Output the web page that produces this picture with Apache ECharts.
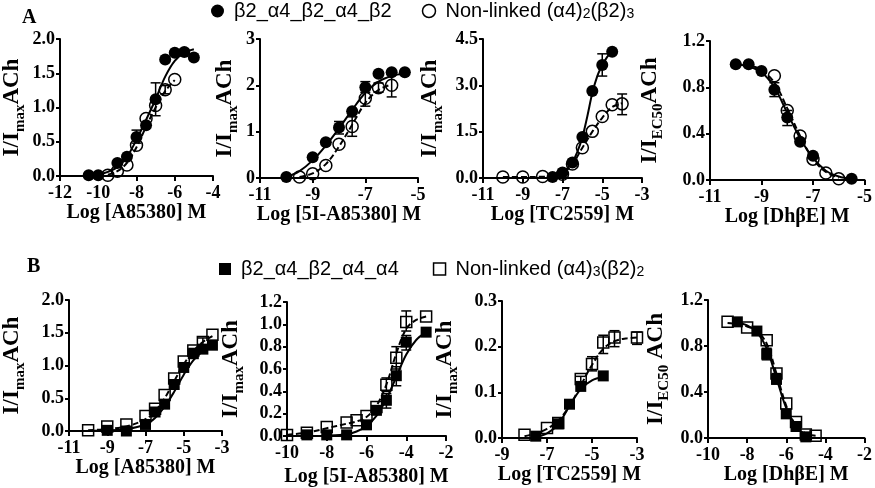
<!DOCTYPE html>
<html><head><meta charset="utf-8">
<script src="https://cdn.jsdelivr.net/npm/echarts@6/dist/echarts.min.js"></script>
<style>html,body{margin:0;padding:0;background:#fff}#c{width:875px;height:488px}</style>
</head><body><div id="c"></div>
<script>
// ---------- legend / series names ----------
const nameA_filled = 'β2_α4_β2_α4_β2';
const nameA_open = 'Non-linked (α4)2(β2)3';
const nameB_filled = 'β2_α4_β2_α4_α4';
const nameB_open = 'Non-linked (α4)3(β2)2';

// ---------- tick labels ----------
const A1_xTicks = [-12, -10, -8, -6, -4];   const A1_yTicks = [0, 0.5, 1.0, 1.5, 2.0];
const A2_xTicks = [-11, -9, -7, -5];        const A2_yTicks = [0, 1, 2, 3];
const A3_xTicks = [-11, -9, -7, -5, -3];    const A3_yTicks = [0, 1.5, 3.0, 4.5];
const A4_xTicks = [-11, -9, -7, -5];        const A4_yTicks = [0, 0.4, 0.8, 1.2];
const B1_xTicks = [-11, -9, -7, -5, -3];    const B1_yTicks = [0, 0.5, 1.0, 1.5, 2.0];
const B2_xTicks = [-10, -8, -6, -4, -2];    const B2_yTicks = [0, 0.2, 0.4, 0.6, 0.8, 1.0, 1.2];
const B3_xTicks = [-9, -7, -5, -3];         const B3_yTicks = [0, 0.1, 0.2, 0.3];
const B4_xTicks = [-10, -8, -6, -4, -2];    const B4_yTicks = [0, 0.4, 0.8, 1.2];

// ---------- axis titles ----------
const xTitles = ['Log [A85380] M', 'Log [5I-A85380] M', 'Log [TC2559] M', 'Log [DhβE] M',
                 'Log [A85380] M', 'Log [5I-A85380] M', 'Log [TC2559] M', 'Log [DhβE] M'];
const yTitles = ['I/I{sub|max}ACh', 'I/I{sub|max}ACh', 'I/I{sub|max}ACh', 'I/I{sub|EC50}ACh',
                 'I/I{sub|max}ACh', 'I/I{sub|max}ACh', 'I/I{sub|max}ACh', 'I/I{sub|EC50} ACh'];

// ---------- A1 : A85380 ----------
const A1_filled = [[-10.5,0.01],[-10,0.01],[-9,0.19],[-8.5,0.28],[-8,0.57],[-7.5,0.74],[-7,1.12],[-6.5,1.70],[-6,1.80],[-5.5,1.81],[-5,1.73]];
const A1_open = [[-9.5,0.01],[-9,0.07],[-8.5,0.16],[-8,0.45],[-7.5,0.84],[-7,1.03],[-6.5,1.26],[-6,1.41]];
const A1_fitFilled = [[-10.5,0.01],[-10,0.02],[-9.5,0.06],[-9,0.13],[-8.5,0.28],[-8,0.53],[-7.5,0.82],[-7,1.12],[-6.5,1.45],[-6,1.68],[-5.5,1.80],[-5,1.85]];
const A1_fitOpen = [[-9.5,0.02],[-9,0.07],[-8.5,0.19],[-8,0.42],[-7.5,0.72],[-7,1.0],[-6.5,1.24],[-6,1.40]];
const A1_err = [[-8,0.48,0.67],[-7,0.88,1.36],[-6.5,1.2,1.32],[-5.5,1.78,1.85]];

// ---------- A2 : 5I-A85380 ----------
const A2_filled = [[-10,0.02],[-9,0.45],[-8.5,0.77],[-8,1.09],[-7.5,1.44],[-7,1.96],[-6.5,2.25],[-6,2.28],[-5.5,2.28]];
const A2_open = [[-9.5,0.02],[-9,0.09],[-8.5,0.27],[-8,0.73],[-7.5,1.11],[-7,1.72],[-6.5,1.95],[-6,2.0]];
const A2_fitFilled = [[-10,0.02],[-9.5,0.15],[-9,0.38],[-8.5,0.70],[-8,1.07],[-7.5,1.47],[-7,1.84],[-6.5,2.08],[-6,2.20],[-5.5,2.26]];
const A2_fitOpen = [[-9.5,0.02],[-9,0.10],[-8.5,0.30],[-8,0.68],[-7.5,1.15],[-7,1.62],[-6.5,1.90],[-6,2.02]];
const A2_err = [[-8,0.95,1.22],[-7.5,0.9,1.32],[-7,1.85,2.08],[-7,1.55,1.9],[-6.5,1.85,2.05],[-6,1.75,2.25]];

// ---------- A3 : TC2559 ----------
const A3_filled = [[-7.5,0.03],[-7,0.18],[-6.5,0.5],[-6,1.33],[-5.5,2.82],[-5,3.66],[-4.5,4.09]];
const A3_open = [[-10,0.03],[-9,0.03],[-8,0.05],[-7,0.12],[-6.5,0.45],[-6,0.98],[-5.5,1.51],[-5,1.99],[-4.5,2.37],[-4,2.40]];
const A3_fitFilled = [[-7.5,0.02],[-7,0.15],[-6.5,0.52],[-6.25,0.85],[-6,1.32],[-5.75,2.0],[-5.5,2.75],[-5.25,3.3],[-5,3.65],[-4.75,3.92],[-4.5,4.1]];
const A3_fitOpen = [[-10,0.03],[-9,0.03],[-8,0.04],[-7.5,0.05],[-7,0.14],[-6.5,0.45],[-6,0.98],[-5.5,1.5],[-5,1.95],[-4.5,2.3],[-4,2.42]];
const A3_err = [[-5,3.3,4.02],[-4,2.05,2.72]];

// ---------- A4 : DhβE ----------
const A4_filled = [[-10,1.0],[-9.5,1.0],[-9,0.94],[-8.5,0.78],[-8,0.54],[-7.5,0.33],[-7,0.21],[-5.5,0.01]];
const A4_open = [[-8.5,0.9],[-8,0.6],[-7.5,0.38],[-7,0.18],[-6.5,0.06],[-6,0.01]];
const A4_fitFilled = [[-10,1.0],[-9.5,0.98],[-9,0.93],[-8.5,0.80],[-8,0.58],[-7.5,0.36],[-7,0.19],[-6.5,0.08],[-6,0.03],[-5.5,0.01]];
const A4_fitOpen = [[-10,1.0],[-9.5,0.99],[-9,0.95],[-8.5,0.84],[-8,0.62],[-7.5,0.38],[-7,0.18],[-6.5,0.07],[-6,0.02]];
const A4_err = [[-8.5,0.72,0.84],[-8,0.47,0.6]];

// ---------- B1 : A85380 ----------
const B1_filled = [[-9,0.01],[-8,0.0],[-7,0.1],[-6.5,0.29],[-6,0.41],[-5.5,0.71],[-5,0.97],[-4.5,1.18],[-4,1.25],[-3.5,1.31]];
const B1_open = [[-10,0.01],[-9,0.07],[-8,0.1],[-7,0.23],[-6.5,0.34],[-6,0.55],[-5.5,0.80],[-5,1.06],[-4.5,1.23],[-4,1.36],[-3.5,1.47]];
const B1_fitFilled = [[-10,0.0],[-9,0.01],[-8,0.03],[-7,0.10],[-6.5,0.20],[-6,0.37],[-5.5,0.60],[-5,0.86],[-4.5,1.08],[-4,1.22],[-3.5,1.30]];
const B1_fitOpen = [[-10,0.01],[-9,0.03],[-8,0.07],[-7,0.18],[-6.5,0.30],[-6,0.50],[-5.5,0.76],[-5,1.02],[-4.5,1.22],[-4,1.36],[-3.5,1.45]];
const B1_err = [[-4.5,1.12,1.26],[-4,1.3,1.42]];

// ---------- B2 : 5I-A85380 ----------
const B2_filled = [[-9,0.01],[-8,0.01],[-7,0.01],[-6,0.10],[-5.5,0.23],[-5,0.32],[-4.5,0.54],[-4,0.84],[-3,0.93]];
const B2_open = [[-10,0.01],[-9,0.03],[-8,0.08],[-7,0.12],[-6.5,0.14],[-6,0.18],[-5.5,0.26],[-5,0.46],[-4.5,0.70],[-4,1.02],[-3,1.07]];
const B2_fitFilled = [[-9,0.0],[-8,0.003],[-7,0.015],[-6.5,0.04],[-6,0.09],[-5.5,0.18],[-5,0.33],[-4.5,0.53],[-4,0.73],[-3.5,0.86],[-3,0.93]];
const B2_fitOpen = [[-10,0.01],[-9,0.03],[-8,0.07],[-7,0.11],[-6.5,0.13],[-6,0.17],[-5.5,0.27],[-5,0.46],[-4.5,0.74],[-4,0.96],[-3.5,1.04],[-3,1.07]];
const B2_err = [[-5,0.25,0.38],[-5,0.4,0.52],[-4.5,0.45,0.62],[-4.5,0.6,0.8],[-4,0.77,0.9],[-4,0.94,1.12]];

// ---------- B3 : TC2559 ----------
const B3_filled = [[-7.5,0.004],[-6.5,0.031],[-6,0.074],[-5.5,0.113],[-4.5,0.136]];
const B3_open = [[-8,0.007],[-7,0.022],[-6.5,0.033],[-5.5,0.129],[-5,0.162],[-4.5,0.209],[-4,0.22],[-3,0.22]];
const B3_fitFilled = [[-7.5,0.002],[-7,0.01],[-6.5,0.03],[-6,0.07],[-5.5,0.107],[-5,0.126],[-4.5,0.134]];
const B3_fitOpen = [[-8,0.004],[-7.5,0.01],[-7,0.02],[-6.5,0.038],[-6,0.07],[-5.5,0.115],[-5,0.16],[-4.5,0.195],[-4,0.212],[-3.5,0.218],[-3,0.22]];
const B3_err = [[-5.5,0.115,0.135],[-5,0.147,0.178],[-4.5,0.185,0.225],[-4,0.2,0.235],[-3,0.205,0.232]];

// ---------- B4 : DhβE ----------
const B4_filled = [[-8.5,1.01],[-7.5,0.93],[-7,0.73],[-6.5,0.51],[-6,0.21],[-5.5,0.10],[-5,0.01]];
const B4_open = [[-9,1.01],[-8,0.96],[-7,0.85],[-6.5,0.56],[-6,0.30],[-5.5,0.14],[-5,0.03],[-4.5,0.02]];
const B4_fitFilled = [[-8.5,1.0],[-8,0.98],[-7.5,0.92],[-7,0.78],[-6.5,0.52],[-6,0.26],[-5.5,0.10],[-5,0.03]];
const B4_fitOpen = [[-9,1.0],[-8.5,0.99],[-8,0.97],[-7.5,0.93],[-7,0.82],[-6.5,0.56],[-6,0.28],[-5.5,0.11],[-5,0.04],[-4.5,0.02]];
const B4_err = [[-7,0.68,0.78],[-6.5,0.47,0.56]];

// ---------- layout (pixel geometry of each plot area) ----------
const layout = [
  {l:53,  r:213, t:39,  b:176, yGap:36, xGap:23},
  {l:260, r:418, t:39,  b:178, yGap:23, xGap:21},
  {l:483, r:642, t:39,  b:178, yGap:41, xGap:21},
  {l:710, r:867, t:41,  b:180, yGap:48, xGap:27},
  {l:61,  r:222, t:300, b:431, yGap:45, xGap:26},
  {l:287, r:446, t:302, b:438, yGap:44, xGap:31},
  {l:502, r:637, t:301, b:438, yGap:45, xGap:23},
  {l:708, r:865, t:300, b:438, yGap:40, xGap:21}
];

const panels = [
  {xt:A1_xTicks, yt:A1_yTicks, dec:1, f:A1_filled, o:A1_open, ff:A1_fitFilled, fo:A1_fitOpen, e:A1_err, g:'A'},
  {xt:A2_xTicks, yt:A2_yTicks, dec:0, f:A2_filled, o:A2_open, ff:A2_fitFilled, fo:A2_fitOpen, e:A2_err, g:'A'},
  {xt:A3_xTicks, yt:A3_yTicks, dec:1, f:A3_filled, o:A3_open, ff:A3_fitFilled, fo:A3_fitOpen, e:A3_err, g:'A'},
  {xt:A4_xTicks, yt:A4_yTicks, dec:1, f:A4_filled, o:A4_open, ff:A4_fitFilled, fo:A4_fitOpen, e:A4_err, g:'A'},
  {xt:B1_xTicks, yt:B1_yTicks, dec:1, f:B1_filled, o:B1_open, ff:B1_fitFilled, fo:B1_fitOpen, e:B1_err, g:'B'},
  {xt:B2_xTicks, yt:B2_yTicks, dec:1, f:B2_filled, o:B2_open, ff:B2_fitFilled, fo:B2_fitOpen, e:B2_err, g:'B'},
  {xt:B3_xTicks, yt:B3_yTicks, dec:1, f:B3_filled, o:B3_open, ff:B3_fitFilled, fo:B3_fitOpen, e:B3_err, g:'B'},
  {xt:B4_xTicks, yt:B4_yTicks, dec:1, f:B4_filled, o:B4_open, ff:B4_fitFilled, fo:B4_fitOpen, e:B4_err, g:'B'}
];

const serif = 'Liberation Serif';
const sans = 'Liberation Sans';
const axisLineStyle = {color:'#000', width:2};

const grids = [], xAxes = [], yAxes = [], series = [];

panels.forEach((p, i) => {
  const L = layout[i];
  grids.push({left:L.l, top:L.t, width:L.r - L.l, height:L.b - L.t, containLabel:false});
  xAxes.push({
    type:'value', gridIndex:i,
    min:p.xt[0], max:p.xt[p.xt.length-1], interval:p.xt[1]-p.xt[0],
    splitLine:{show:false},
    axisLine:{show:true, onZero:false, lineStyle:axisLineStyle},
    axisTick:{show:true, inside:false, length:5, lineStyle:axisLineStyle},
    axisLabel:{color:'#000', fontFamily:serif, fontWeight:'bold', fontSize:18, margin:8},
    name:xTitles[i], nameLocation:'middle', nameGap:L.xGap,
    nameTextStyle:{color:'#000', fontFamily:serif, fontWeight:'bold', fontSize:20}
  });
  yAxes.push({
    type:'value', gridIndex:i,
    min:p.yt[0], max:p.yt[p.yt.length-1], interval:p.yt[1]-p.yt[0],
    splitLine:{show:false},
    axisLine:{show:true, onZero:false, lineStyle:axisLineStyle},
    axisTick:{show:true, inside:false, length:4, lineStyle:axisLineStyle},
    axisLabel:{color:'#000', fontFamily:serif, fontWeight:'bold', fontSize:18, margin:5,
      formatter: v => p.dec ? Number(v).toFixed(p.dec) : String(Math.round(v))},
    name:yTitles[i], nameLocation:'middle', nameGap:L.yGap,
    nameTextStyle:{color:'#000', fontFamily:serif, fontWeight:'bold', fontSize:23,
      rich:{sub:{fontFamily:serif, fontWeight:'bold', fontSize:15, color:'#000', verticalAlign:'bottom', padding:[0,0,-4,0]}}}
  });
  const isA = p.g === 'A';
  const sym = isA ? 'circle' : 'rect';
  const size = isA ? 12 : 11;
  // fitted curves
  series.push({type:'line', name:'fit-f-'+i, xAxisIndex:i, yAxisIndex:i, data:p.ff, smooth:0.35,
    symbol:'none', silent:true, z:4, lineStyle:{color:'#000', width:2}});
  series.push({type:'line', name:'fit-o-'+i, xAxisIndex:i, yAxisIndex:i, data:p.fo, smooth:0.35,
    symbol:'none', silent:true, z:4, lineStyle:{color:'#000', width:2, type:[6,3]}});
  // error bars
  series.push({type:'custom', name:'err-'+i, xAxisIndex:i, yAxisIndex:i, data:p.e, z:3, silent:true,
    encode:{x:0, y:[1,2]},
    renderItem:(params, api) => {
      const x = api.value(0);
      const a = api.coord([x, api.value(1)]);
      const b = api.coord([x, api.value(2)]);
      const st = {stroke:'#000', lineWidth:1.5};
      return {type:'group', children:[
        {type:'line', shape:{x1:a[0], y1:a[1], x2:b[0], y2:b[1]}, style:st},
        {type:'line', shape:{x1:a[0]-5, y1:a[1], x2:a[0]+5, y2:a[1]}, style:st},
        {type:'line', shape:{x1:b[0]-5, y1:b[1], x2:b[0]+5, y2:b[1]}, style:st}
      ]};
    }});
  // data points
  series.push({type:'scatter', name: isA ? nameA_filled : nameB_filled, xAxisIndex:i, yAxisIndex:i,
    data:p.f, symbol:sym, symbolSize:size, z:2, itemStyle:{color:'#000', opacity:1}});
  series.push({type:'scatter', name: isA ? nameA_open : nameB_open, xAxisIndex:i, yAxisIndex:i,
    data:p.o, symbol:sym, symbolSize:size, z:2,
    itemStyle:{color:'rgba(255,255,255,0)', borderColor:'#000', borderWidth:1.5, opacity:1}});
});

const legendFmt = name => ({
  [nameA_open]: 'Non-linked (α4){s|2}(β2){s|3}',
  [nameB_open]: 'Non-linked (α4){s|3}(β2){s|2}'
}[name] || name);
const makeLegendText = () => ({fontFamily:sans, fontSize:20, color:'#000', padding:[0,0,0,5],
  rich:{s:{fontFamily:sans, fontSize:14, color:'#000', verticalAlign:'bottom'}}});

const option = {
  animation:false,
  backgroundColor:'#fff',
  grid:grids, xAxis:xAxes, yAxis:yAxes, series:series,
  legend:[
    {left:211, top:1, padding:0, itemWidth:13, itemHeight:13, itemGap:30, selectedMode:false,
     textStyle:makeLegendText(), formatter:legendFmt,
     data:[{name:nameA_filled, icon:'circle', itemStyle:{color:'#000', opacity:1}},
           {name:nameA_open, icon:'circle', itemStyle:{color:'#fff', borderColor:'#000', borderWidth:1.5}}]},
    {left:219, top:259, padding:0, itemWidth:12, itemHeight:12, itemGap:34, selectedMode:false,
     textStyle:makeLegendText(), formatter:legendFmt,
     data:[{name:nameB_filled, icon:'rect', itemStyle:{color:'#000', opacity:1}},
           {name:nameB_open, icon:'rect', itemStyle:{color:'#fff', borderColor:'#000', borderWidth:1.5}}]}
  ],
  graphic:[
    {type:'text', left:22, top:8, style:{text:'A', fontFamily:serif, fontWeight:'bold', fontSize:20, fill:'#000'}},
    {type:'text', left:27, top:257, style:{text:'B', fontFamily:serif, fontWeight:'bold', fontSize:20, fill:'#000'}}
  ]
};

const chart = echarts.init(document.getElementById('c'));
chart.setOption(option);
</script></body></html>
